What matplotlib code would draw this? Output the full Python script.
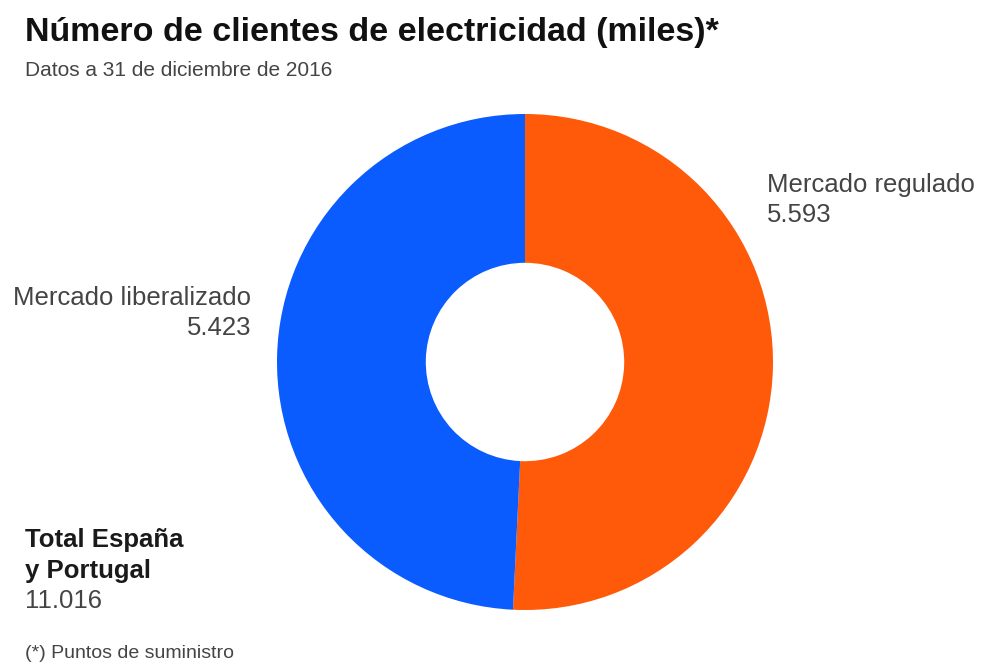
import matplotlib

matplotlib.use("Agg")
import matplotlib.pyplot as plt

# Clientes de electricidad (miles) a 31/12/2016
labels = ["Mercado regulado", "Mercado liberalizado"]
values = [5593, 5423]
value_labels = ["5.593", "5.423"]
total_label = "11.016"
colors = ["#ff5a0a", "#0a5cff"]

plt.rcParams["font.family"] = ["Liberation Sans", "DejaVu Sans"]

W, H = 981, 671
fig = plt.figure(figsize=(W / 100, H / 100), dpi=100)
fig.patch.set_facecolor("white")


def fx(px):
    return px / W


def fy(py):
    return 1 - py / H


# donut: centre (525, 362) px, radius 248 px
cx, cy, r = 525, 362, 248
ax = fig.add_axes([fx(cx - r), fy(cy + r), 2 * r / W, 2 * r / H])
ax.pie(
    values,
    colors=colors,
    startangle=90,
    counterclock=False,
    radius=1,
    wedgeprops=dict(width=0.6, linewidth=0),
)
ax.set_xlim(-1, 1)
ax.set_ylim(-1, 1)
ax.set_aspect("equal")
ax.axis("off")

dark = "#1a1a1a"
grey = "#444444"
fs = 18.5

fig.text(fx(25), fy(33), "Número de clientes de electricidad (miles)*",
         fontsize=24.5, fontweight="bold", color="#111111", va="center", ha="left")
fig.text(fx(25), fy(70), "Datos a 31 de diciembre de 2016",
         fontsize=15, color=grey, va="center", ha="left")

# segment labels
fig.text(fx(767), fy(185), labels[0], fontsize=fs, color=grey, va="center", ha="left")
fig.text(fx(767), fy(215), value_labels[0], fontsize=fs, color=grey, va="center", ha="left")
fig.text(fx(251), fy(298), labels[1], fontsize=fs, color=grey, va="center", ha="right")
fig.text(fx(251), fy(328), value_labels[1], fontsize=fs, color=grey, va="center", ha="right")

# total
fig.text(fx(25), fy(540), "Total España", fontsize=18.5, fontweight="bold", color=dark,
         va="center", ha="left")
fig.text(fx(25), fy(571), "y Portugal", fontsize=18.5, fontweight="bold", color=dark,
         va="center", ha="left")
fig.text(fx(25), fy(601), total_label, fontsize=fs, color=grey, va="center", ha="left")

fig.text(fx(25), fy(653), "(*) Puntos de suministro", fontsize=14, color=grey,
         va="center", ha="left")

fig.savefig("out.png", dpi=100)
